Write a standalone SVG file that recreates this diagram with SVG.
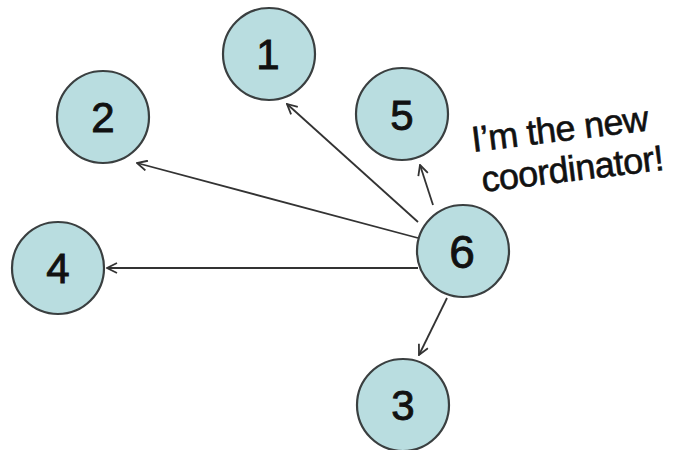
<svg xmlns="http://www.w3.org/2000/svg" width="677" height="450" viewBox="0 0 677 450">
  <defs>
    <style>
      .node circle { fill: #b9dde0; stroke: #3a3f40; stroke-width: 2.2; }
      .node text { font-family: "Liberation Sans", Arial, sans-serif; font-size: 42px; fill: #111; stroke: #111; stroke-width: 0.9; text-anchor: middle; }
      .edge { stroke: #333; stroke-width: 1.8; fill: none; marker-end: url(#arrow); }
      .note { font-family: "Liberation Sans", Arial, sans-serif; font-size: 36px; fill: #111; stroke: #111; stroke-width: 0.6; letter-spacing: -0.6px; }
    </style>
    <marker id="arrow" viewBox="0 0 12 12" refX="11" refY="6" markerWidth="12" markerHeight="12" markerUnits="userSpaceOnUse" orient="auto">
      <path d="M1,1 L11,6 L1,11" fill="none" stroke="#333" stroke-width="1.8"/>
    </marker>
  </defs>
  <rect width="677" height="450" fill="#ffffff"/>

  <g id="connectors">
    <line class="edge" x1="418" y1="222" x2="287" y2="104"/>
    <line class="edge" x1="418" y1="238" x2="137" y2="163"/>
    <line class="edge" x1="418" y1="268" x2="107" y2="268"/>
    <line class="edge" x1="433" y1="205" x2="420" y2="165"/>
    <line class="edge" x1="447" y1="298" x2="419" y2="355"/>
  </g>

  <g id="node1" class="node">
    <circle cx="269" cy="54" r="46"/>
    <text x="268" y="69">1</text>
  </g>
  <g id="node2" class="node">
    <circle cx="103" cy="117" r="46"/>
    <text x="103" y="132">2</text>
  </g>
  <g id="node4" class="node">
    <circle cx="58" cy="268" r="46"/>
    <text x="58" y="283">4</text>
  </g>
  <g id="node5" class="node">
    <circle cx="402" cy="114" r="46"/>
    <text x="402" y="130">5</text>
  </g>
  <g id="node6" class="node">
    <circle cx="463" cy="251" r="46"/>
    <text x="462" y="268" style="font-size:46px">6</text>
  </g>
  <g id="node3" class="node">
    <circle cx="403" cy="405" r="46"/>
    <text x="403" y="420">3</text>
  </g>

  <g id="note" transform="rotate(-7 473 152)">
    <text class="note" x="473" y="152">I’m the new</text>
    <text class="note" x="478" y="193">coordinator!</text>
  </g>
</svg>
